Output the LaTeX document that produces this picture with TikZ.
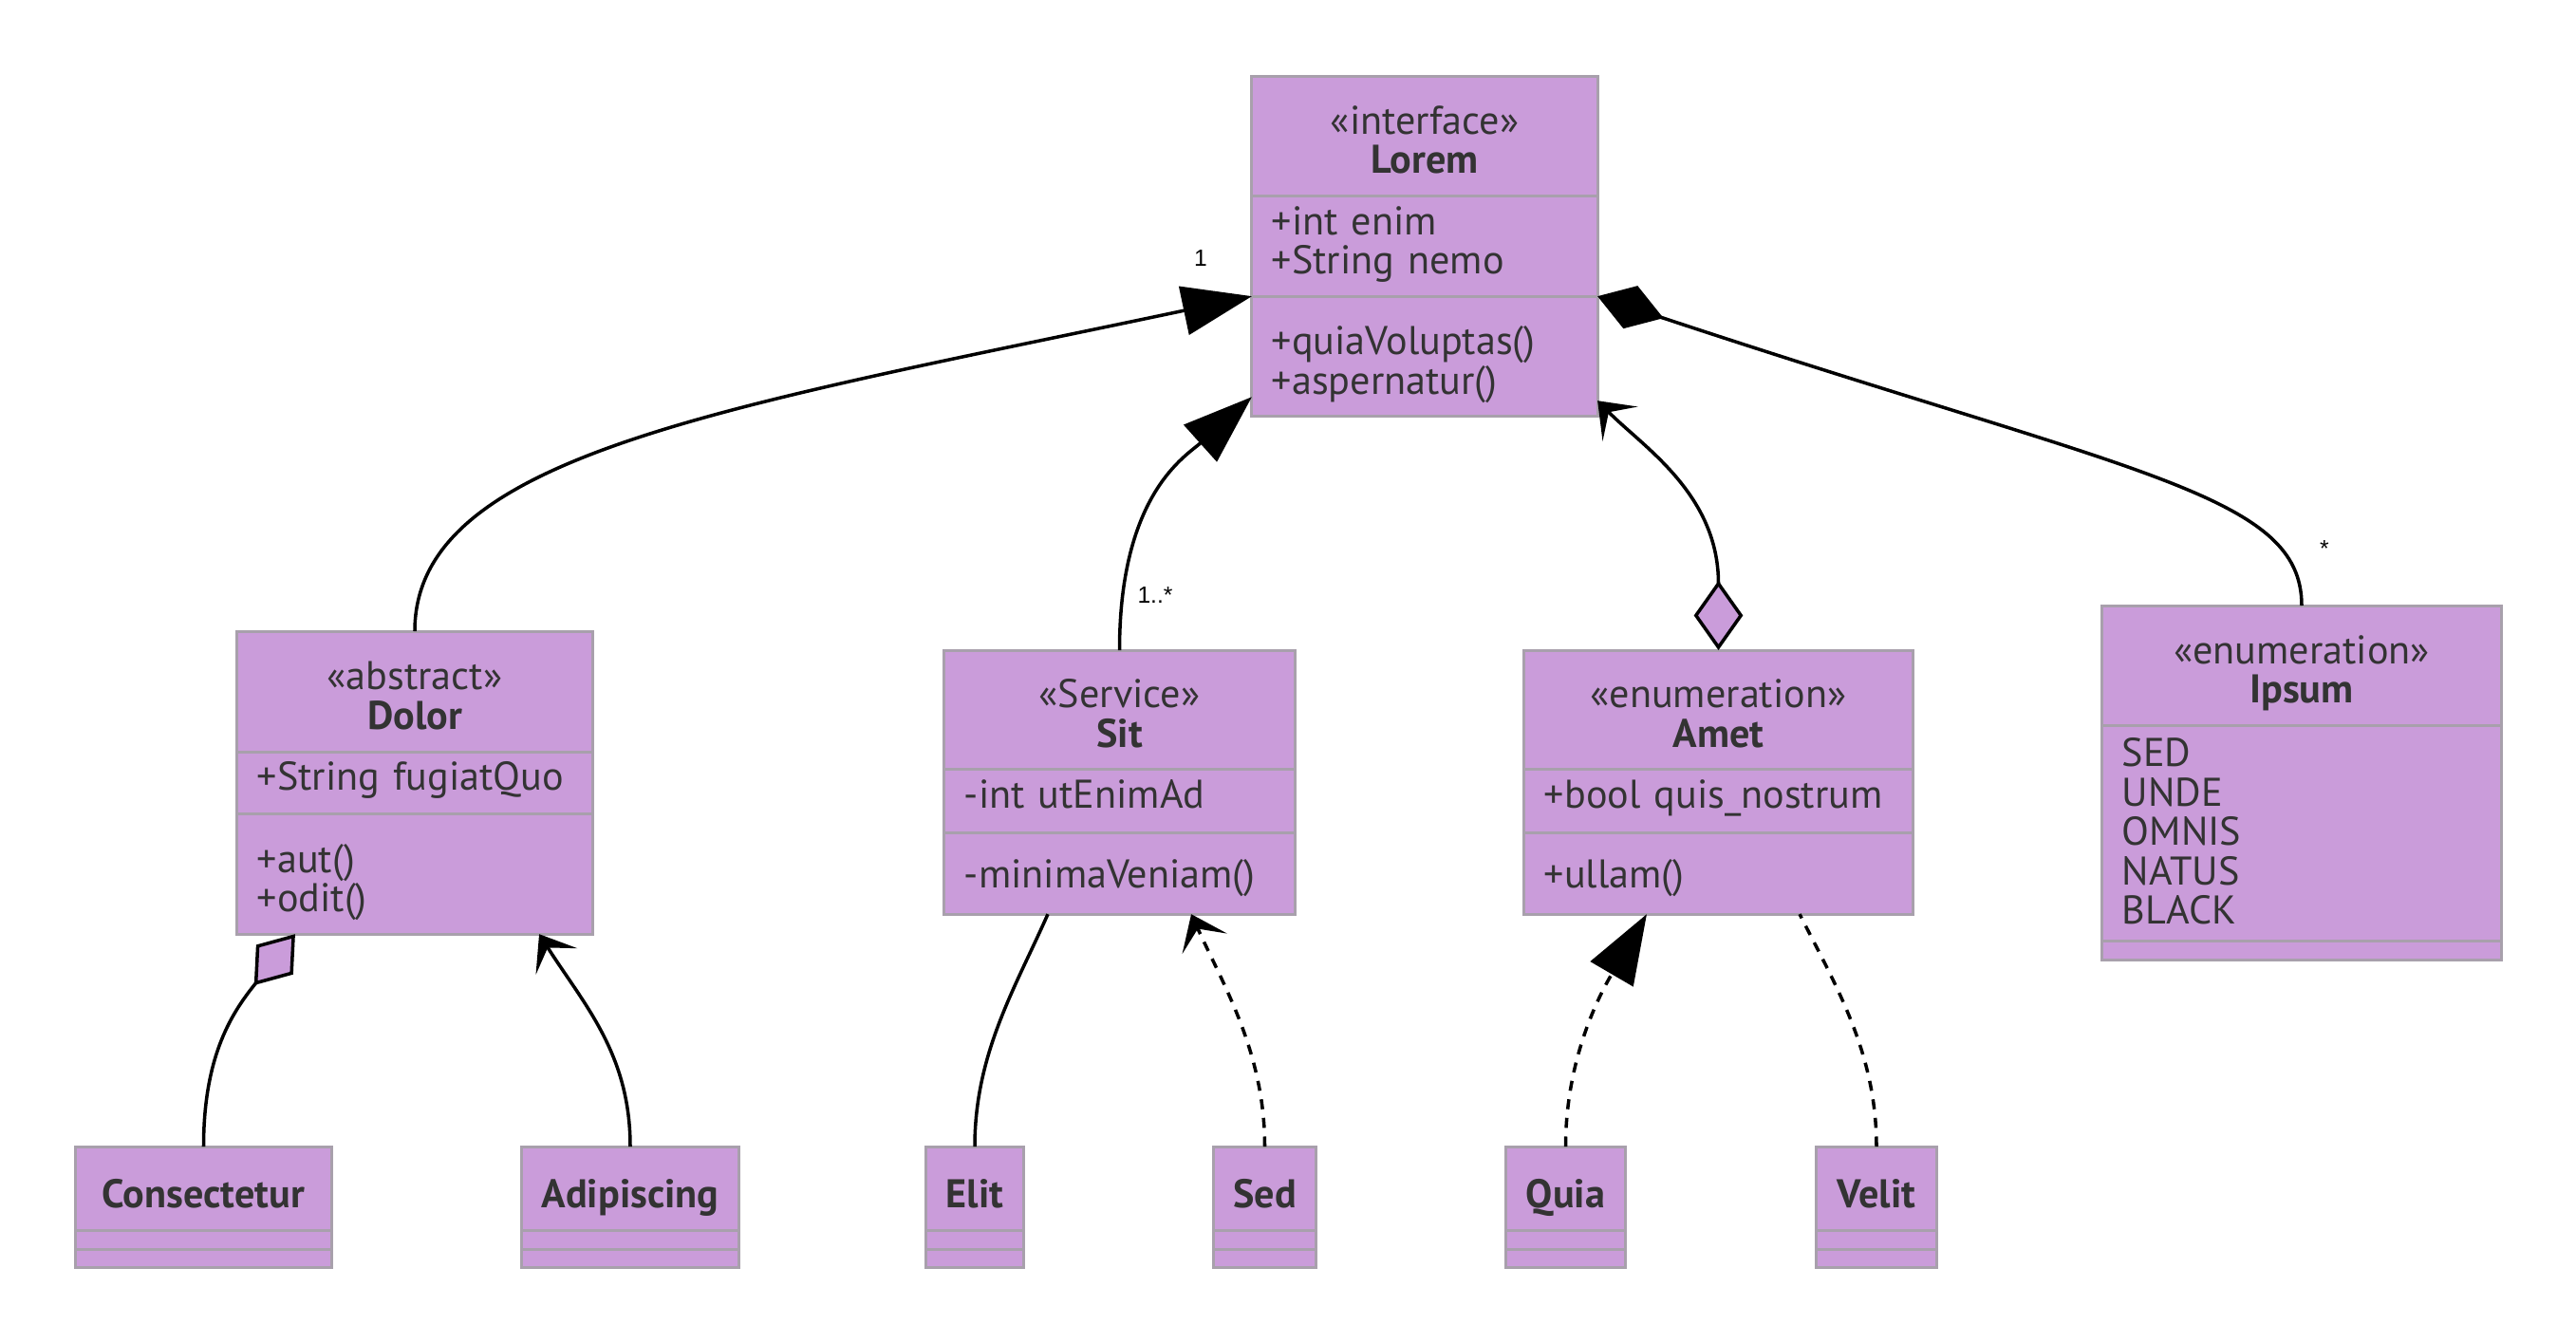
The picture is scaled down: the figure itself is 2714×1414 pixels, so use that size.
\documentclass[tikz,border=0pt]{standalone}
\usepackage{fontspec}
\setmainfont{PT Sans}
\newfontfamily\labelfont{Liberation Sans}
\usetikzlibrary{positioning,arrows.meta}
\definecolor{classfill}{RGB}{202,156,218}
\definecolor{classline}{RGB}{168,160,172}
\definecolor{classtext}{RGB}{51,51,51}

\begin{document}
\begin{tikzpicture}[x=0.01cm, y=-0.01cm,
    box/.style={draw=classline, fill=classfill, line width=0.85pt, outer sep=0pt,
        inner xsep=0.21cm, inner ysep=0pt, text=classtext,
        font=\fontsize{12}{11.8}\selectfont},
    head/.style={box, anchor=north, align=center, text height=22.6pt, text depth=0pt},
    titlebox/.style={box, anchor=north, text height=11.6pt, text depth=0pt, font=\fontsize{12}{11.8}\selectfont\bfseries},
    part/.style={box, align=left, text height=9pt, text depth=#1},
    empty/.style={box, inner sep=0pt},
    conn/.style={line width=1pt, black},
    dashline/.style={dash pattern=on 3pt off 2.6pt},
    ext/.style={conn, -{Triangle[length=20.8pt,width=14.7pt]}},
    dep/.style={conn, -{Stealth[length=9.7pt,width=14.7pt,inset=4.9pt]}},
    agg/.style={conn, -{Diamond[length=19.6pt,width=14.2pt,fill=classfill]}},
    aggdep/.style={conn, {Diamond[length=20.8pt,width=14.7pt,fill=classfill]}-{Stealth[length=9.7pt,width=14.7pt,inset=4.9pt]}},
    comp/.style={conn, -{Diamond[length=20.8pt,width=13.5pt]}},
    mult/.style={font=\labelfont\fontsize{7}{8}\selectfont, inner sep=0pt}]

    \path[use as bounding box, fill=white] (0,0) rectangle (2714,1414);

    \node[head, minimum width=3.64cm, minimum height=1.26cm] (lorem) at (1501,80) {«interface»\\\textbf{Lorem}};
    \node[part=15.8pt, text width=3.22cm, minimum height=1.06cm, below=0pt of lorem] (lorem-a) {+int enim\\+String nemo};
    \node[part=9.7pt, text width=3.22cm, minimum height=1.26cm, below=0pt of lorem-a] (lorem-m) {+quiaVoluptas()\\+aspernatur()};

    \node[head, minimum width=3.74cm, minimum height=1.27cm] (dolor) at (437,665) {«abstract»\\\textbf{Dolor}};
    \node[part=4.4pt, text width=3.32cm, minimum height=0.65cm, below=0pt of dolor] (dolor-a) {+String fugiatQuo};
    \node[part=9.7pt, text width=3.32cm, minimum height=1.27cm, below=0pt of dolor-a] (dolor-m) {+aut()\\+odit()};

    \node[head, minimum width=3.69cm, minimum height=1.25cm] (sit) at (1179.5,685) {«Service»\\\textbf{Sit}};
    \node[part=4.4pt, text width=3.27cm, minimum height=0.67cm, below=0pt of sit] (sit-a) {-int utEnimAd};
    \node[part=-1.6pt, text width=3.27cm, minimum height=0.86cm, below=0pt of sit-a] (sit-m) {-minimaVeniam()};

    \node[head, minimum width=4.09cm, minimum height=1.25cm] (amet) at (1810.5,685) {«enumeration»\\\textbf{Amet}};
    \node[part=4.4pt, text width=3.67cm, minimum height=0.67cm, below=0pt of amet] (amet-a) {+bool quis\_nostrum};
    \node[part=-1.6pt, text width=3.67cm, minimum height=0.86cm, below=0pt of amet-a] (amet-m) {+ullam()};

    \node[head, minimum width=4.20cm, minimum height=1.26cm] (ipsum) at (2425,638) {«enumeration»\\\textbf{Ipsum}};
    \node[part=48.8pt, text width=3.78cm, minimum height=2.27cm, below=0pt of ipsum] (ipsum-a) {SED\\UNDE\\OMNIS\\NATUS\\BLACK};
    \node[empty, minimum width=4.20cm, minimum height=0.20cm, below=0pt of ipsum-a] (ipsum-m) {};

    \node[titlebox, minimum width=2.69cm, minimum height=0.88cm] (consectetur) at (214.5,1208) {Consectetur};
    \node[empty, minimum width=2.69cm, minimum height=0.20cm, below=0pt of consectetur] (consectetur-a) {};
    \node[empty, minimum width=2.69cm, minimum height=0.19cm, below=0pt of consectetur-a] (consectetur-m) {};

    \node[titlebox, minimum width=2.28cm, minimum height=0.88cm] (adipiscing) at (664,1208) {Adipiscing};
    \node[empty, minimum width=2.28cm, minimum height=0.20cm, below=0pt of adipiscing] (adipiscing-a) {};
    \node[empty, minimum width=2.28cm, minimum height=0.19cm, below=0pt of adipiscing-a] (adipiscing-m) {};

    \node[titlebox, minimum width=1.03cm, minimum height=0.88cm] (elit) at (1027,1208) {Elit};
    \node[empty, minimum width=1.03cm, minimum height=0.20cm, below=0pt of elit] (elit-a) {};
    \node[empty, minimum width=1.03cm, minimum height=0.19cm, below=0pt of elit-a] (elit-m) {};

    \node[titlebox, minimum width=1.07cm, minimum height=0.88cm] (sed) at (1332.5,1208) {Sed};
    \node[empty, minimum width=1.07cm, minimum height=0.20cm, below=0pt of sed] (sed-a) {};
    \node[empty, minimum width=1.07cm, minimum height=0.19cm, below=0pt of sed-a] (sed-m) {};

    \node[titlebox, minimum width=1.25cm, minimum height=0.88cm] (quia) at (1649.5,1208) {Quia};
    \node[empty, minimum width=1.25cm, minimum height=0.20cm, below=0pt of quia] (quia-a) {};
    \node[empty, minimum width=1.25cm, minimum height=0.19cm, below=0pt of quia-a] (quia-m) {};

    \node[titlebox, minimum width=1.26cm, minimum height=0.88cm] (velit) at (1977,1208) {Velit};
    \node[empty, minimum width=1.26cm, minimum height=0.20cm, below=0pt of velit] (velit-a) {};
    \node[empty, minimum width=1.26cm, minimum height=0.19cm, below=0pt of velit-a] (velit-m) {};

    \draw[ext] (dolor.north) .. controls +(0,-185) and +(-559,118) .. (lorem-m.north west);
    \draw[ext] (sit.north) .. controls +(0,-165) and +(-69,62) .. ([yshift=0.2cm]lorem-m.south west);
    \draw[aggdep] (amet.north) .. controls +(0,-165) and +(47,48) .. ([yshift=0.16cm]lorem-m.south east);
    \draw[comp] (ipsum.north) .. controls +(0,-118) and +(567,188) .. (lorem-m.north east);

    \draw[agg] (consectetur.north) .. controls +(0,-98) and +(-65,81) .. ([xshift=0.61cm]dolor-m.south west);
    \draw[dep] (adipiscing.north) .. controls +(0,-98) and +(47,74) .. ([xshift=-0.56cm]dolor-m.south east);
    \draw[conn] (elit.north) .. controls +(0,-98) and +(-34,77) .. ([xshift=1.09cm]sit-m.south west);
    \draw[dep, dashline] (sed.north) .. controls +(0,-98) and +(35,77) .. ([xshift=-1.09cm]sit-m.south east);
    \draw[ext, dashline] (quia.north) .. controls +(0,-98) and +(-45,77) .. ([xshift=1.29cm]amet-m.south west);
    \draw[conn, dashline] (velit.north) .. controls +(0,-98) and +(39,77) .. ([xshift=-1.19cm]amet-m.south east);

    \node[mult] (lorem-one) at (1265,272) {1};
    \node[mult] (sit-many) at (1217,627) {1..*};
    \node[mult] (ipsum-many) at (2449,578) {*};

\end{tikzpicture}
\end{document}
